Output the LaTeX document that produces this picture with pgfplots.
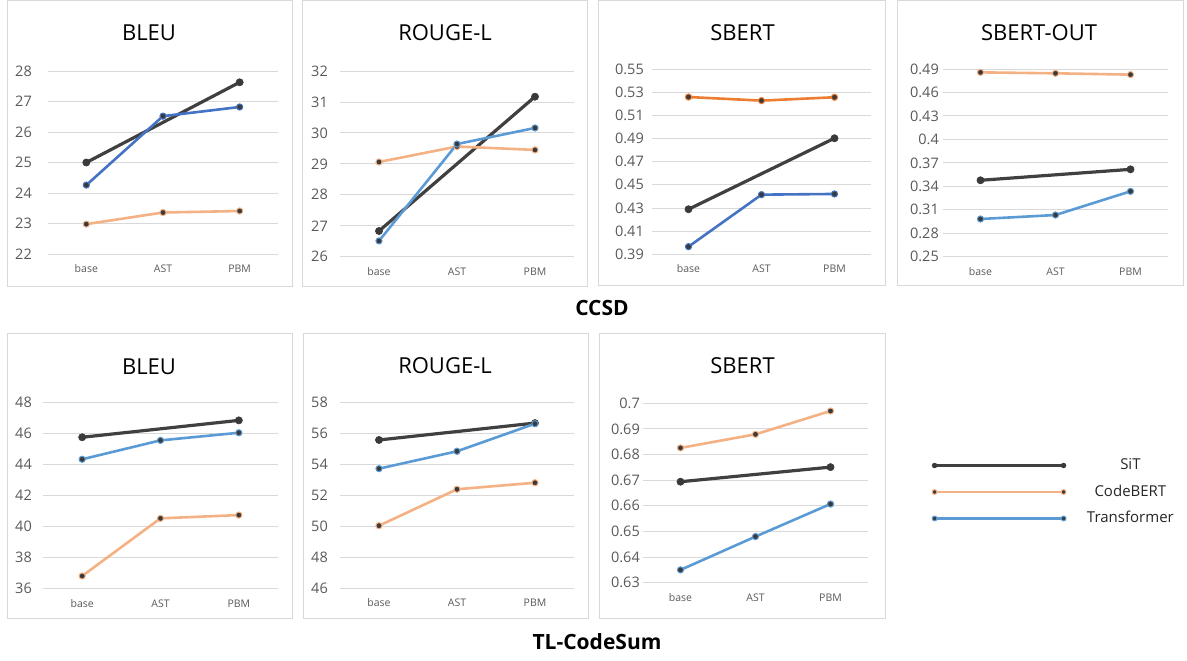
\documentclass[border=0pt]{standalone}
\usepackage{fontspec}
\setmainfont{Open Sans}
\usepackage{pgfplots}
\pgfplotsset{compat=1.18}
\definecolor{gridc}{HTML}{D9D9D9}
\definecolor{tickc}{HTML}{595959}
\definecolor{sitc}{HTML}{404040}
\definecolor{markc}{HTML}{3A3A3A}
\definecolor{lorange}{HTML}{F4B183}
\definecolor{dorange}{HTML}{ED7D31}
\definecolor{lblue}{HTML}{5B9BD5}
\definecolor{dblue}{HTML}{4472C4}
\definecolor{boxc}{HTML}{D9D9D9}
\pgfplotsset{
  panel/.style={scale only axis, xmin=-0.5, xmax=2.5, xtick={0,1,2},
    xticklabels={base,AST,PBM}, axis line style={draw=none},
    major tick length=0pt, ymajorgrids, grid style={color=gridc, line width=0.9pt},
    tick label style={color=tickc},
    xticklabel style={font=\fontsize{10.5}{12}\selectfont, anchor=base, inner sep=0pt, yshift=-18.5pt},
    yticklabel style={font=\fontsize{14.5}{16}\selectfont, anchor=east, inner sep=0pt},
    /pgf/number format/assume math mode=true, clip=false},
  ygap/.style={yticklabel style={xshift=-#1}},
  sit/.style={color=sitc, line width=3.2pt, mark=*, mark size=3.6pt,
    mark options={fill=markc, draw=markc, line width=0.6pt}},
  ser/.style={color=#1, line width=2.6pt, mark=*, mark size=3.1pt,
    mark options={fill=markc, draw=#1, line width=1pt}},
}
\begin{document}
\begin{tikzpicture}
\useasboundingbox (0,0) rectangle (1187pt,-661pt);
% panel frames
\foreach \a/\b/\c/\d in {7/0.5/292/286, 302/0.5/587/286, 598/0.5/885/285, 897/0.5/1183/285,
  7/333/292/618, 303/333/588/618, 599/333/885/618}
  \draw[boxc, line width=0.9pt] (\a pt,-\b pt) rectangle (\c pt,-\d pt);
% titles
\begin{scope}[every node/.style={font=\fontsize{22}{26}\selectfont, text=black}]
\node at (149pt,-33pt) {BLEU};
\node at (445pt,-33pt) {ROUGE-L};
\node at (742.5pt,-33pt) {SBERT};
\node at (1039pt,-33pt) {SBERT-OUT};
\node at (149pt,-366.7pt) {BLEU};
\node at (445pt,-365.7pt) {ROUGE-L};
\node at (742.5pt,-365.7pt) {SBERT};
\end{scope}
\node[font=\bfseries\fontsize{21}{24}\selectfont] at (602pt,-308pt) {CCSD};
\node[font=\bfseries\fontsize{21}{24}\selectfont] at (597pt,-642pt) {TL-CodeSum};

% P1 CCSD BLEU
\begin{axis}[panel, ygap=16pt, at={(48pt,-254pt)}, anchor=south west, width=230pt, height=183pt,
  ymin=22, ymax=28, ytick={22,23,24,25,26,27,28}, yticklabels={22,23,24,25,26,27,28}]
\addplot[sit] coordinates {(0,25.00) (2,27.63)};
\addplot[ser=lorange] coordinates {(0,22.98) (1,23.36) (2,23.41)};
\addplot[ser=dblue] coordinates {(0,24.26) (1,26.52) (2,26.82)};
\end{axis}
% P2 CCSD ROUGE-L
\begin{axis}[panel, ygap=12pt, at={(340pt,-256.7pt)}, anchor=south west, width=234pt, height=185.7pt,
  ymin=26, ymax=32, ytick={26,27,28,29,30,31,32}, yticklabels={26,27,28,29,30,31,32}]
\addplot[sit] coordinates {(0,26.83) (2,31.17)};
\addplot[ser=lorange] coordinates {(0,29.06) (1,29.56) (2,29.45)};
\addplot[ser=lblue] coordinates {(0,26.51) (1,29.64) (2,30.16)};
\end{axis}
% P3 CCSD SBERT
\begin{axis}[panel, ygap=8pt, at={(652pt,-254.3pt)}, anchor=south west, width=219pt, height=185.3pt,
  ymin=0.39, ymax=0.55, ytick={0.39,0.41,0.43,0.45,0.47,0.49,0.51,0.53,0.55},
  yticklabels={0.39,0.41,0.43,0.45,0.47,0.49,0.51,0.53,0.55}]
\addplot[sit] coordinates {(0,0.4289) (2,0.4902)};
\addplot[ser=dorange] coordinates {(0,0.5258) (1,0.5227) (2,0.5256)};
\addplot[ser=dblue] coordinates {(0,0.3966) (1,0.4415) (2,0.4421)};
\end{axis}
% P4 CCSD SBERT-OUT
\begin{axis}[panel, ygap=4pt, at={(943pt,-256.7pt)}, anchor=south west, width=225pt, height=187.7pt,
  ymin=0.25, ymax=0.49, ytick={0.25,0.28,0.31,0.34,0.37,0.40,0.43,0.46,0.49},
  yticklabels={0.25,0.28,0.31,0.34,0.37,0.4,0.43,0.46,0.49}]
\addplot[sit] coordinates {(0,0.3477) (2,0.3617)};
\addplot[ser=lorange] coordinates {(0,0.4857) (1,0.4845) (2,0.4828)};
\addplot[ser=lblue] coordinates {(0,0.2982) (1,0.3033) (2,0.3336)};
\end{axis}
% P5 TL BLEU
\begin{axis}[panel, ygap=11pt, at={(43pt,-588.7pt)}, anchor=south west, width=235pt, height=186pt,
  ymin=36, ymax=48, ytick={36,38,40,42,44,46,48}, yticklabels={36,38,40,42,44,46,48}]
\addplot[sit] coordinates {(0,45.77) (2,46.86)};
\addplot[ser=lorange] coordinates {(0,36.82) (1,40.54) (2,40.75)};
\addplot[ser=lblue] coordinates {(0,44.35) (1,45.57) (2,46.06)};
\end{axis}
% P6 TL ROUGE-L
\begin{axis}[panel, ygap=12pt, at={(340pt,-588.3pt)}, anchor=south west, width=234pt, height=186pt,
  ymin=46, ymax=58, ytick={46,48,50,52,54,56,58}, yticklabels={46,48,50,52,54,56,58}]
\addplot[sit] coordinates {(0,55.57) (2,56.66)};
\addplot[ser=lorange] coordinates {(0,50.04) (1,52.39) (2,52.81)};
\addplot[ser=lblue] coordinates {(0,53.72) (1,54.84) (2,56.62)};
\end{axis}
% P7 TL SBERT + legend
\begin{axis}[panel, ygap=3pt, at={(643pt,-582.7pt)}, anchor=south west, width=225pt, height=179.4pt,
  ymin=0.63, ymax=0.70, ytick={0.63,0.64,0.65,0.66,0.67,0.68,0.69,0.70},
  yticklabels={0.63,0.64,0.65,0.66,0.67,0.68,0.69,0.7},
  legend cell align=center,
  legend image code/.code={\draw[#1, line width=2.6pt, mark size=2.4pt, mark repeat=1] plot coordinates {(0pt,0pt) (129pt,0pt)};},
  legend style={at={(axis description cs:1.2844,0.5056)}, anchor=west, draw=none, fill=none,
    inner sep=0pt, row sep=12.5pt, column sep=21pt,
    font=\fontsize{15}{18}\selectfont, text=black!85,
    nodes={inner sep=0pt, text height=11pt, text depth=3pt}}]
\addplot[sit] coordinates {(0,0.6694) (2,0.6751)};
\addplot[ser=lorange] coordinates {(0,0.6826) (1,0.6879) (2,0.6970)};
\addplot[ser=lblue] coordinates {(0,0.6350) (1,0.6480) (2,0.6607)};
\legend{SiT,CodeBERT,Transformer}
\end{axis}
\end{tikzpicture}
\end{document}
